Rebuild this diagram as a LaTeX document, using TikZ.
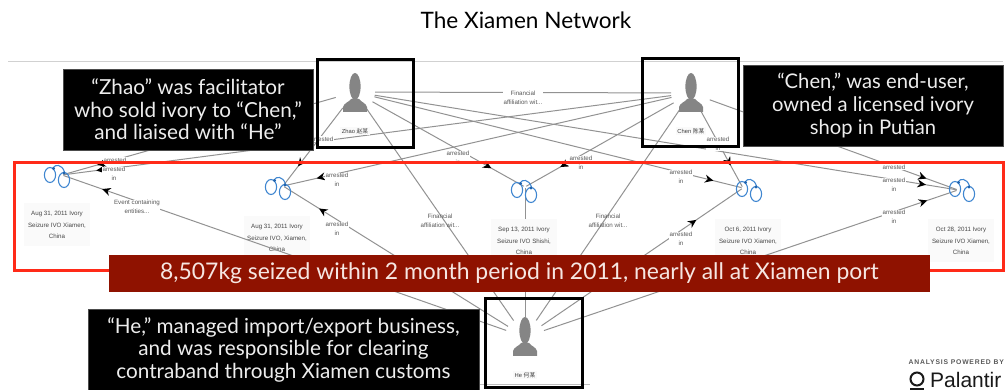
\documentclass[tikz,border=0pt]{standalone}
\usepackage{fontspec}
\setmainfont{Lato}
\newfontfamily\arialfont{Liberation Sans}
\newfontfamily\cjkfont{Noto Sans CJK SC}
\usetikzlibrary{arrows.meta,decorations.markings,calc}
\definecolor{linkgray}{HTML}{929292}
\definecolor{lblgray}{HTML}{585858}
\definecolor{cuffblue}{HTML}{3F86D0}
\definecolor{cuffdark}{HTML}{1F64B0}
\definecolor{framered}{HTML}{FF2A18}
\definecolor{bannerred}{HTML}{8F1200}
\definecolor{softwhite}{HTML}{EDEDED}
\definecolor{bannertext}{HTML}{F6E6E2}
\definecolor{iconcolor}{HTML}{858585}
\definecolor{paperbg}{HTML}{FAFAFA}
\tikzset{
  hubperson/.style={circle,minimum size=40pt,inner sep=0pt,outer sep=0pt},
  hubcuff/.style={circle,minimum size=3pt,inner sep=0pt,outer sep=0pt},
  linkline/.style={draw=linkgray,line width=1pt},
  arr/.style={postaction={decorate,decoration={markings,mark=at position -#1pt with {\arrow[black]{Stealth[length=8.5pt,width=8pt]}}}}},
  lblplain/.style={align=center,text=lblgray,inner sep=0.5pt,font=\arialfont\fontsize{6.2}{9}\selectfont},
  lbl/.style={lblplain,fill=white},
  cufflabel/.style={align=center,text=lblgray!80!black,fill=paperbg,inner sep=2pt,minimum width=66pt,minimum height=43pt,font=\arialfont\fontsize{6.2}{11.7}\selectfont},
  namelabel/.style={text=lblgray!70!black,fill=paperbg,inner sep=1.5pt,font=\arialfont\fontsize{5.8}{7}\selectfont},
  blackbox/.style={fill=black,draw=black!70,line width=0.4pt,inner sep=0pt,align=center,text=softwhite,font=\fontsize{20.7}{22.5}\selectfont},
  personbox/.style={draw=black,line width=3pt,inner sep=0pt},
  pics/personicon/.style={code={
    \fill[iconcolor] (0,13.5) ellipse [x radius=5.6,y radius=13.5];
    \fill[iconcolor] (-12,39) -- (-12,34) .. controls (-11,30) and (-6,29) .. (-4,26) -- (4,26) .. controls (6,29) and (11,30) .. (12,34) -- (12,39) -- cycle;
  }},
  pics/cufficon/.style={code={
    \draw[cuffblue,line width=1.1pt] (0,0) ellipse [x radius=5.6,y radius=7.5];
    \draw[cuffblue,line width=1.1pt] (14,5) ellipse [x radius=5.6,y radius=7.5];
    \draw[cuffblue,line width=1.1pt] (3,-7) .. controls (5,-11) and (12,-11) .. (14.5,-3);
    \fill[cuffdark] (3.5,-6.5) circle (1.6);
    \fill[cuffdark] (14,-2) circle (1.6);
  }}
}
\begin{document}
\begin{tikzpicture}[x=1pt,y=-1pt]
\useasboundingbox (0,0) rectangle (1005,390);
% rules of the slide
\coordinate (ruleTL) at (8,61); \coordinate (ruleTR) at (1003,61);
\coordinate (ruleBL) at (88,384.5); \coordinate (ruleBR) at (590,384.5);
\draw[black!18,line width=0.6pt] (ruleTL) -- (ruleTR);
\draw[black!25,line width=0.6pt] (ruleBL) -- (ruleBR);
% hubs
\node[hubperson] (zhao) at (355,92) {};
\node[hubperson] (chen) at (691,93) {};
\node[hubperson] (he) at (525,337) {};
\node[hubcuff] (c1) at (62,175) {};
\node[hubcuff] (c2) at (283,186) {};
\node[hubcuff] (c3) at (525,187) {};
\node[hubcuff] (c4) at (743,188) {};
\node[hubcuff] (c5) at (958,190) {};
% seizure labels under the links
\node[cufflabel] (t1) at (57,225) {Aug 31, 2011 Ivory\\Seizure IVO Xiamen,\\China};
\node[cufflabel] (t2) at (277,238) {Aug 31, 2011 Ivory\\Seizure IVO, Xiamen,\\China};
\node[cufflabel] (t4) at (748,241) {Oct 6, 2011 Ivory\\Seizure IVO Xiamen,\\China};
\node[cufflabel] (t5) at (961,241) {Oct 28, 2011 Ivory\\Seizure IVO Xiamen,\\China};
% links
\draw[linkline] (zhao) -- (chen);
\draw[linkline] (zhao) -- (he);
\draw[linkline] (chen) -- (he);
\draw[linkline,arr=35] (zhao) -- (c1);
\draw[linkline,arr=33] (chen) -- (c1);
\draw[linkline,arr=41] (he) -- (c1);
\draw[linkline,arr=23] (zhao) -- (c2);
\draw[linkline,arr=33] (chen) -- (c2);
\draw[linkline,arr=41] (he) -- (c2);
\draw[linkline,arr=37] (zhao) -- (c3);
\draw[linkline,arr=39] (chen) -- (c3);
\draw[linkline] (he) -- (c3);
\draw[linkline,arr=29] (zhao) -- (c4);
\draw[linkline,arr=24] (chen) -- (c4);
\draw[linkline,arr=55] (he) -- (c4);
\draw[linkline,arr=31] (zhao) -- (c5);
\draw[linkline,arr=32] (chen) -- (c5);
\draw[linkline,arr=31] (he) -- (c5);
\node[cufflabel] (t3) at (524,241) {Sep 13, 2011 Ivory\\Seizure IVO Shishi,\\China};
% handcuffs
\pic at (50,175) {cufficon};
\pic at (271,187) {cufficon};
\pic at (517,190) {cufficon};
\pic at (742,189) {cufficon};
\pic at (955,189) {cufficon};
% link labels
\node[lbl] (f0) at (523,98) {Financial\\affiliation wit...};
\node[lblplain] (f1) at (440,221) {Financial\\affiliation wit...};
\node[lblplain] (f2) at (608,221) {Financial\\affiliation wit...};
\node[lbl] (e1) at (137,207) {Event containing\\entities...};
\node[lbl] (a1) at (115,160) {arrested};
\node[lbl] (a2) at (114,174) {arrested\\in};
\node[lbl] (a3) at (322,139) {arrested};
\node[lbl] (a4) at (337,180) {arrested\\in};
\node[lbl] (a5) at (337,229) {arrested\\in};
\node[lbl] (a6) at (458,158) {arrested\\in};
\node[lbl] (a7) at (581,163) {arrested\\in};
\node[lbl] (a8) at (681,177) {arrested\\in};
\node[lbl] (a9) at (718,144) {arrested\\in};
\node[lbl] (a10) at (681,239) {arrested\\in};
\node[lbl] (a11) at (894,167) {arrested};
\node[lbl] (a12) at (894,185) {arrested\\in};
\node[lbl] (a13) at (894,217) {arrested\\in};
% red frame
\node[draw=framered,line width=3pt,minimum width=989pt,minimum height=108pt,inner sep=0pt] (frame) at (509,217) {};
% banner
\node[fill=bannerred,minimum width=821pt,minimum height=37pt,inner sep=0pt,text=bannertext,font=\fontsize{22.9}{26}\selectfont] (banner) at (519.5,273.5) {8,507kg seized within 2 month period in 2011, nearly all at Xiamen port};
% black boxes
\node[blackbox,minimum width=250pt,minimum height=81pt] (bz) at (188,109.5) {“Zhao” was facilitator\\who sold ivory to “Chen,”\\and liaised with “He”};
\node[blackbox,minimum width=260pt,minimum height=81pt,font=\fontsize{20.2}{23}\selectfont] (bc) at (873,105.5) {“Chen,” was end-user,\\owned a licensed ivory\\shop in Putian};
\node[blackbox,minimum width=391pt,minimum height=81pt] (bh) at (283.5,349.5) {“He,” managed import/export business,\\and was responsible for clearing\\contraband through Xiamen customs};
% person frames
\node[personbox,minimum width=96pt,minimum height=88pt] (pz) at (365,104) {};
\node[personbox,minimum width=96pt,minimum height=88pt] (pc) at (690,102.5) {};
\node[personbox,minimum width=97pt,minimum height=88pt] (ph) at (533.5,343) {};
\pic at (355,73) {personicon};
\pic at (691,73) {personicon};
\pic at (525,317) {personicon};
\node[namelabel] (nz) at (355,131) {Zhao {\cjkfont 赵某}};
\node[namelabel] (nc) at (691,131) {Chen {\cjkfont 陈某}};
\node[namelabel] (nh) at (525,375) {He {\cjkfont 何某}};
% title
\node[text=black,inner sep=0pt,font=\fontsize{22.6}{26}\selectfont] (title) at (526,20) {The Xiamen Network};
% vendor mark
\node[anchor=east,inner sep=0pt,text=black!65,font=\arialfont\bfseries\fontsize{6.8}{8}\selectfont\addfontfeature{LetterSpace=12}] (powered) at (1004,362) {ANALYSIS POWERED BY};
\node[anchor=base west,inner sep=0pt,text=black!90,font=\arialfont\fontsize{21}{23}\selectfont] (palantir) at (930,387.5) {Palantir};
\draw[black!90,line width=2pt] (917,379) circle (6.5);
\draw[black!90,line width=2pt] (910,389) -- (924,389);
\end{tikzpicture}
\end{document}
